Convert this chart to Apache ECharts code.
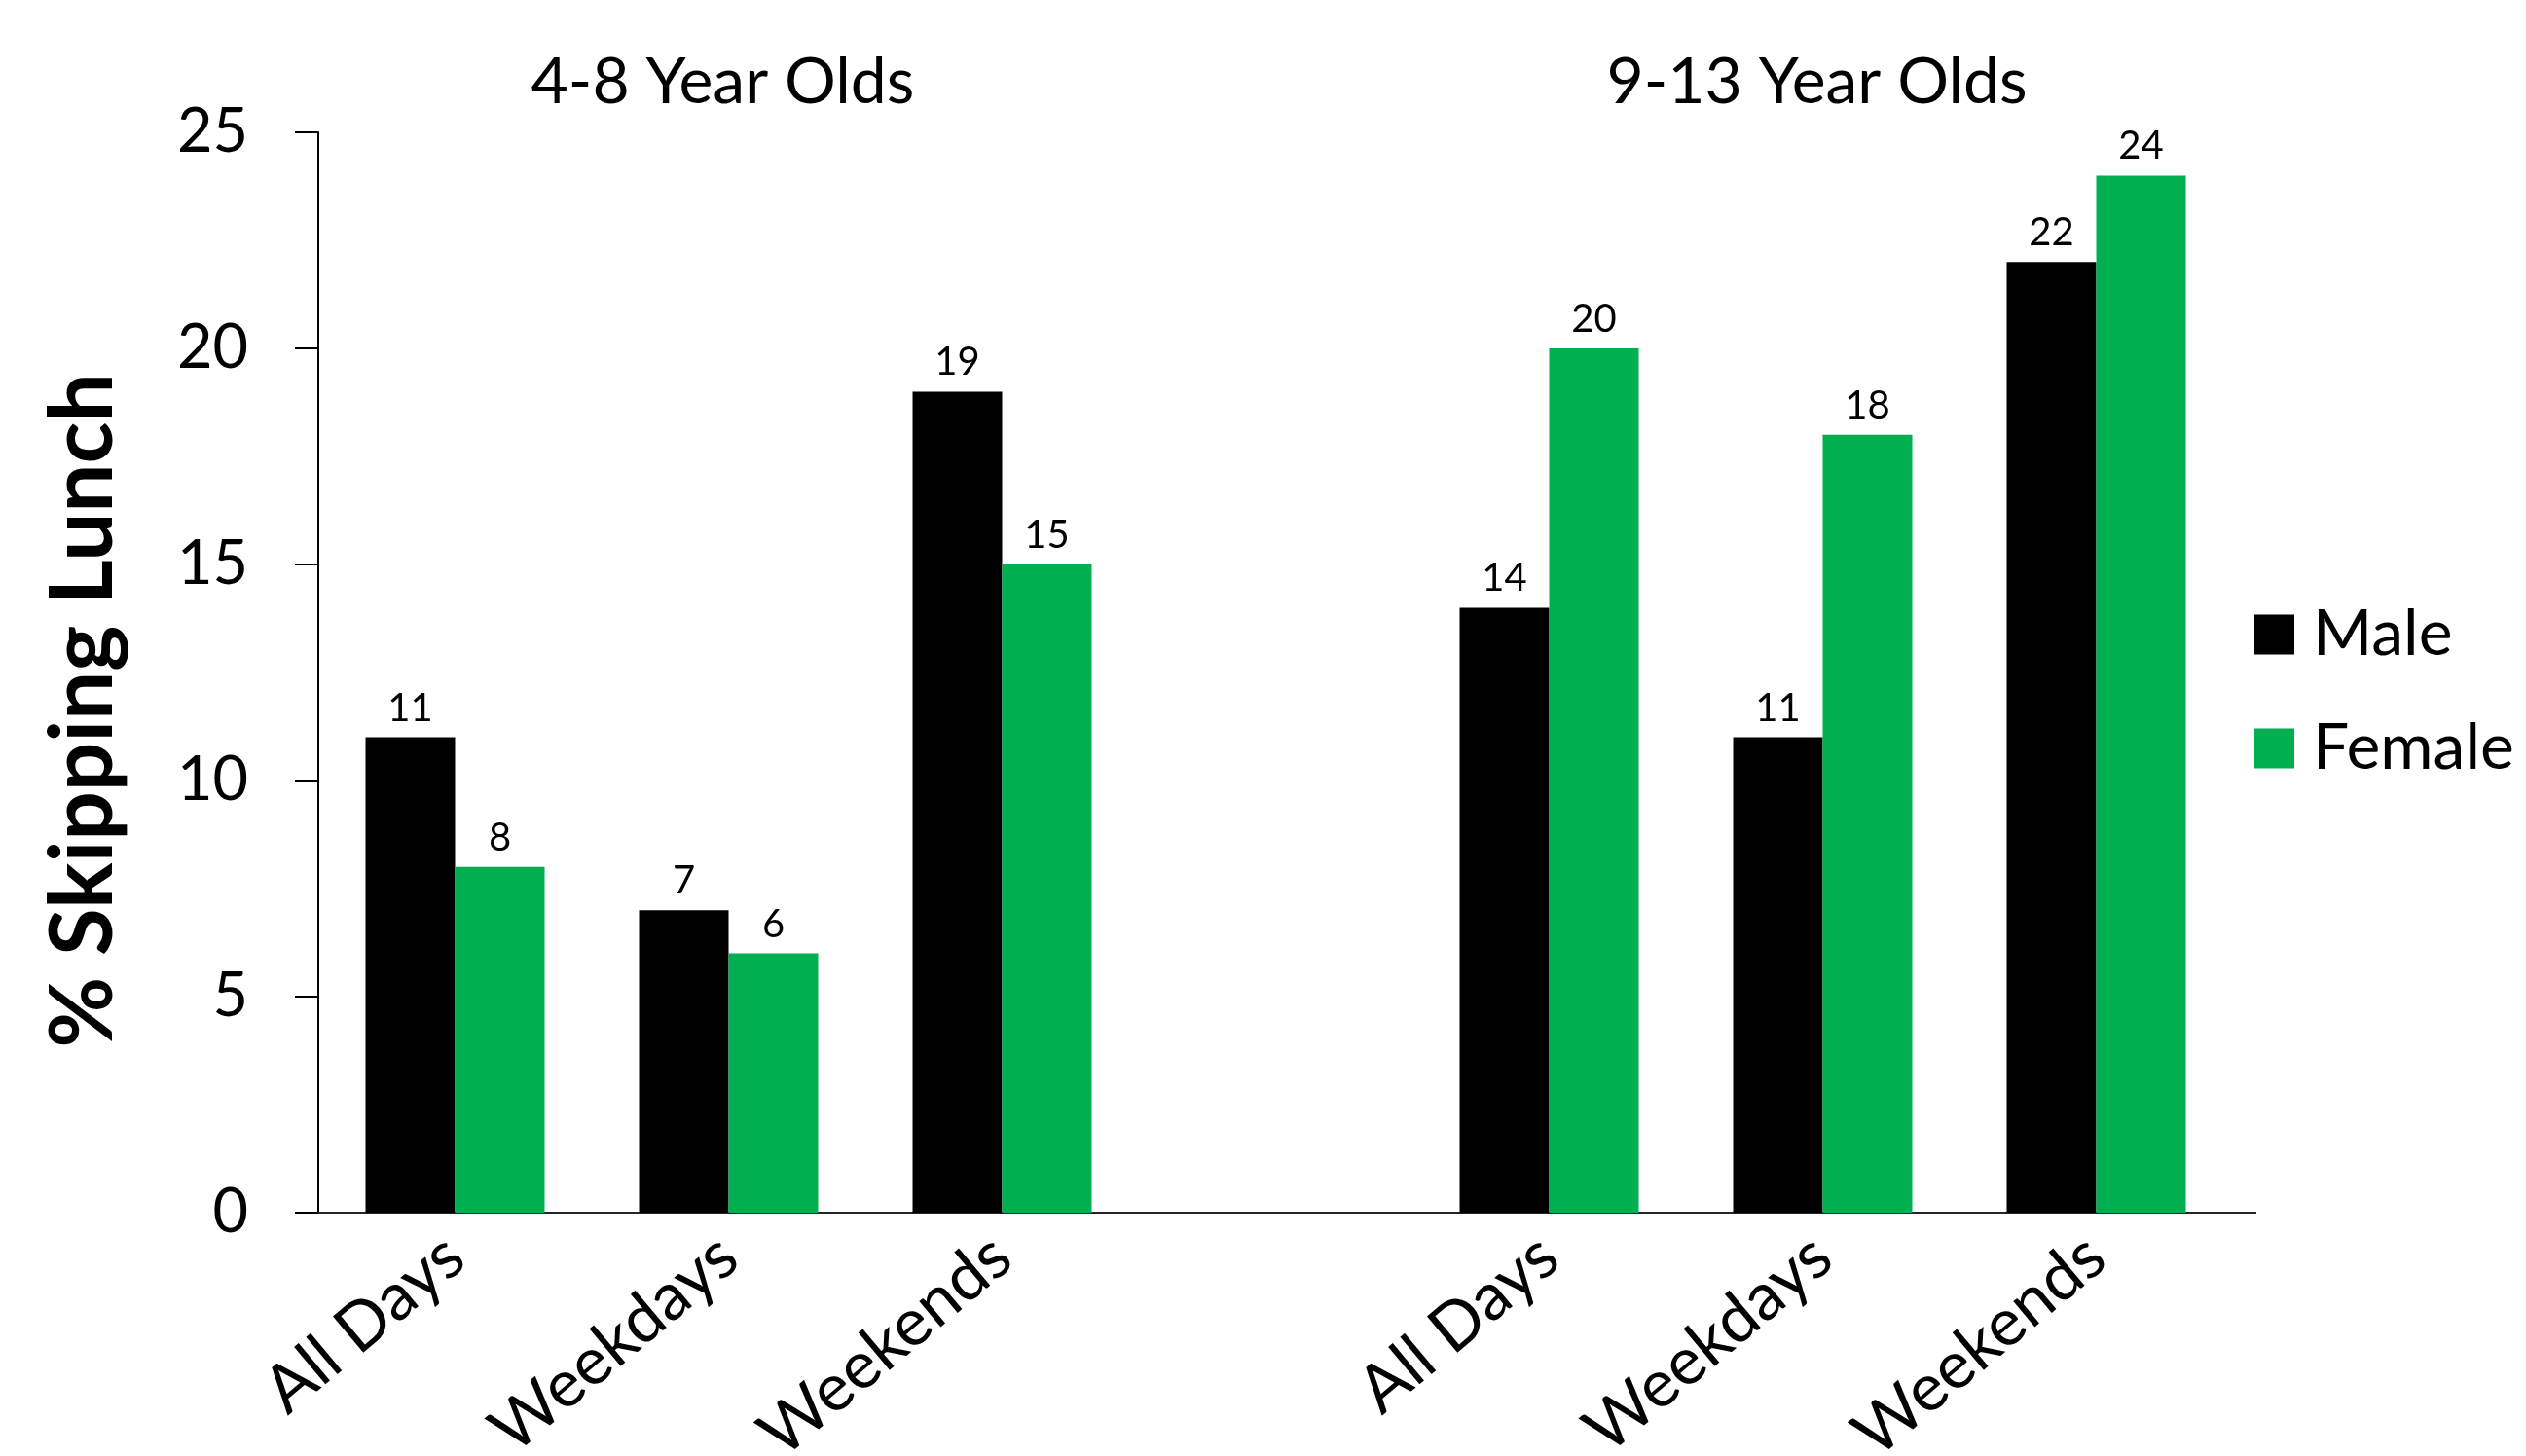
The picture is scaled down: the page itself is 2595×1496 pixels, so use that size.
<!DOCTYPE html>
<html>
<head>
<meta charset="utf-8">
<script src="https://cdn.jsdelivr.net/npm/echarts@6/dist/echarts.min.js"></script>
<style>
  html, body { margin: 0; padding: 0; background: #ffffff; }
  #chart { width: 2595px; height: 1496px; }
</style>
</head>
<body>
<div id="chart"></div>
<script>
// data
var categories = ["All Days", "Weekdays", "Weekends", "", "All Days", "Weekdays", "Weekends"];
var male = [11, 7, 19, "-", 14, 11, 22];
var female = [8, 6, 15, "-", 20, 18, 24];
var groupTitles = ["4-8 Year Olds", "9-13 Year Olds"];
var groupTitleIndex = [1, 5];
var yTicks = [0, 5, 10, 15, 20, 25];

var FONT = "Lato";
var gridLeft = 327,
  gridTop = 136,
  gridHeight = 1110,
  gridWidth = 1967;
var slot = gridWidth / categories.length;

var chart = echarts.init(document.getElementById("chart"));

var titles = groupTitles.map(function (t, i) {
  return {
    text: t,
    left: gridLeft + slot * (groupTitleIndex[i] + 0.5) - 11,
    top: 47,
    textAlign: "center",
    textStyle: {
      fontFamily: FONT,
      fontSize: 66,
      fontWeight: "normal",
      color: "#000",
    },
  };
});

var option = {
  backgroundColor: "#ffffff",
  animation: false,
  title: titles,
  grid: {
    left: gridLeft,
    top: gridTop,
    width: gridWidth,
    height: gridHeight,
    containLabel: false,
    outerBoundsMode: "none",
  },
  legend: {
    orient: "vertical",
    left: 2311,
    top: 612,
    icon: "rect",
    itemWidth: 41,
    itemHeight: 41,
    itemGap: 47,
    data: ["Male", "Female"],
    textStyle: {
      fontFamily: FONT,
      fontSize: 66,
      lineHeight: 70,
      color: "#000",
      padding: [0, 0, 0, 14],
    },
  },
  xAxis: {
    type: "category",
    data: categories,
    axisLine: { show: true, lineStyle: { color: "#262626", width: 2 } },
    axisTick: { show: false },
    axisLabel: {
      rotate: 40,
      margin: 36,
      fontFamily: FONT,
      fontSize: 68,
      color: "#000",
      interval: 0,
    },
  },
  yAxis: {
    type: "value",
    min: yTicks[0],
    max: yTicks[yTicks.length - 1],
    interval: 5,
    name: "% Skipping Lunch",
    nameLocation: "middle",
    nameRotate: 90,
    nameGap: 196,
    nameTextStyle: {
      fontFamily: FONT,
      fontSize: 89,
      fontWeight: "bold",
      color: "#000",
      padding: [0, 78, 0, 0],
    },
    splitLine: { show: false },
    axisLine: { show: true, lineStyle: { color: "#000", width: 2 } },
    axisTick: { show: true, length: 24, lineStyle: { color: "#000", width: 2 } },
    axisLabel: {
      margin: 72,
      fontFamily: FONT,
      fontSize: 63,
      color: "#000",
    },
  },
  graphic: [
    {
      // short run of the baseline past the last category, as in the original
      type: "line",
      shape: {
        x1: gridLeft + gridWidth,
        y1: gridTop + gridHeight,
        x2: gridLeft + gridWidth + 24,
        y2: gridTop + gridHeight,
      },
      style: { stroke: "#262626", lineWidth: 2 },
    },
  ],
  series: [
    {
      name: "Male",
      type: "bar",
      data: male,
      barWidth: 92,
      barGap: "0%",
      itemStyle: { color: "#000000" },
      label: {
        show: true,
        position: "top",
        distance: 10,
        fontFamily: FONT,
        fontSize: 40,
        color: "#000",
      },
    },
    {
      name: "Female",
      type: "bar",
      data: female,
      barWidth: 92,
      barGap: "0%",
      itemStyle: { color: "#00B050" },
      label: {
        show: true,
        position: "top",
        distance: 10,
        fontFamily: FONT,
        fontSize: 40,
        color: "#000",
      },
    },
  ],
};

chart.setOption(option);
</script>
</body>
</html>
